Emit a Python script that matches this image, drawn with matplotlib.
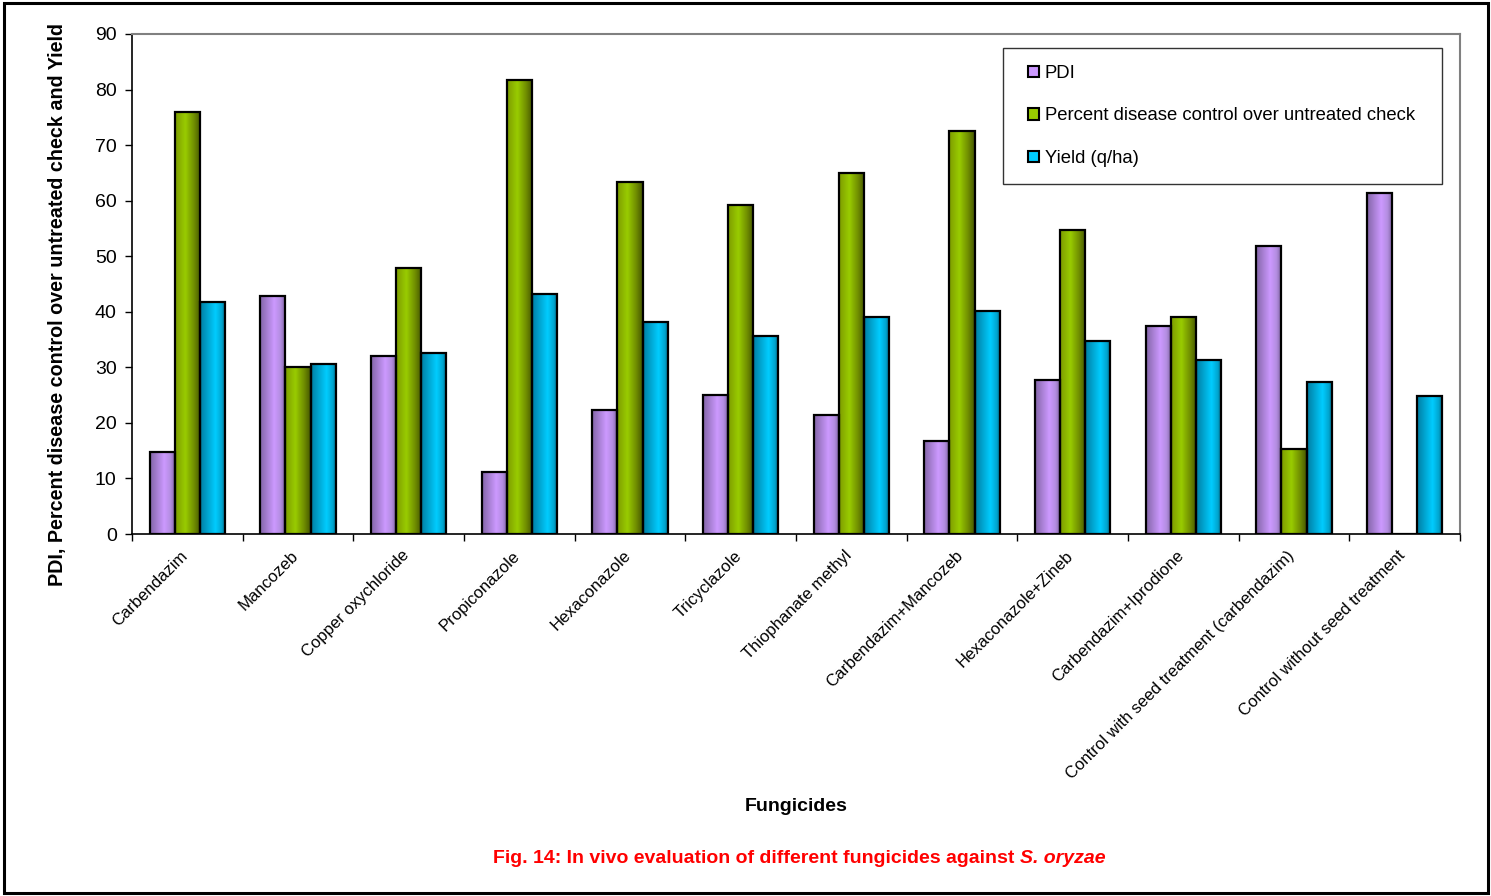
import numpy as np
import matplotlib
matplotlib.use('Agg')
import matplotlib.pyplot as plt
from matplotlib.colors import LinearSegmentedColormap
from matplotlib.patches import Patch, Rectangle
from matplotlib.legend_handler import HandlerBase
from matplotlib.transforms import ScaledTranslation

plt.rcParams['font.family'] = ['Liberation Sans', 'DejaVu Sans']

# data
fungicides = ['Carbendazim', 'Mancozeb', 'Copper oxychloride', 'Propiconazole',
              'Hexaconazole', 'Tricyclazole', 'Thiophanate methyl',
              'Carbendazim+Mancozeb', 'Hexaconazole+Zineb', 'Carbendazim+Iprodione',
              'Control with seed treatment (carbendazim)', 'Control without seed treatment']
pdi = [14.7, 42.8, 32.0, 11.2, 22.4, 25.1, 21.5, 16.8, 27.8, 37.4, 51.9, 61.3]
control = [76.0, 30.0, 47.8, 81.7, 63.4, 59.2, 64.9, 72.5, 54.7, 39.1, 15.3, 0.0]
yld = [41.8, 30.6, 32.6, 43.2, 38.2, 35.6, 39.0, 40.2, 34.8, 31.3, 27.4, 24.9]

series = [('PDI', pdi), ('Percent disease control over untreated check', control),
          ('Yield (q/ha)', yld)]
# left -> highlight -> right shading for each series
stops = [[(0, '#8466a8'), (0.55, '#cc99ff'), (0.8, '#b38de0'), (1, '#7c5f9e')],
         [(0, '#7e9c00'), (0.4, '#99cc00'), (0.75, '#6f8c00'), (1, '#455600')],
         [(0, '#007ea3'), (0.6, '#00ccff'), (0.85, '#00a5cf'), (1, '#00617d')]]
flat = ['#cc99ff', '#99cc00', '#00ccff']


class SquareHandler(HandlerBase):
    # small square sitting at the right end of the handle box
    def create_artists(self, legend, orig_handle, xdescent, ydescent, width, height,
                       fontsize, trans):
        s = 8.0
        r = Rectangle((width - s - xdescent, (height - s) / 2 - ydescent), s, s,
                      facecolor=orig_handle.get_facecolor(), edgecolor='black',
                      linewidth=1.5, transform=trans)
        return [r]


fig = plt.figure(figsize=(14.91, 8.96), dpi=100)
ax = fig.add_axes([132/1491, 1-534/896, (1460-132)/1491, 500/896])

x = np.arange(len(fungicides))
w = 0.226
grad = np.linspace(0, 1, 64).reshape(1, -1)
for i, (name, vals) in enumerate(series):
    cmap = LinearSegmentedColormap.from_list('c%d' % i, stops[i])
    pos = x + (i - 1) * w
    for px, v in zip(pos, vals):
        if v <= 0:
            continue
        ax.imshow(grad, cmap=cmap, extent=[px - w/2, px + w/2, 0, v], aspect='auto',
                  interpolation='bilinear', zorder=2)
    ax.bar(pos, vals, w, facecolor='none', edgecolor='black', linewidth=1.6, zorder=3)

ax.set_xlim(-0.5, len(fungicides) - 0.5)
ax.set_ylim(0, 90)
ax.set_yticks(np.arange(0, 91, 10))
ax.tick_params(axis='y', labelsize=14, length=5, width=1, direction='out', pad=6)
ax.set_xticks(x)
ax.set_xticklabels(fungicides, rotation=45, ha='right', rotation_mode='anchor', fontsize=12)
ax.tick_params(axis='x', length=0, pad=10)
shift = ScaledTranslation(-7/100, 0, fig.dpi_scale_trans)
for lab in ax.get_xticklabels():
    lab.set_transform(lab.get_transform() + shift)
ax.set_xticks(np.arange(-0.5, len(fungicides)), minor=True)
ax.tick_params(axis='x', which='minor', length=5, width=1, direction='out')
for s in ['top', 'right']:
    ax.spines[s].set_color('#808080')
    ax.spines[s].set_linewidth(1.5)
for s in ['left', 'bottom']:
    ax.spines[s].set_linewidth(1.2)

handles = [Patch(facecolor=c, edgecolor='black') for c in flat]
leg = ax.legend(handles, [s[0] for s in series], loc='upper left', mode='expand',
                bbox_to_anchor=(1003/1491, 1-179/896, 439/1491, 131/896),
                bbox_transform=fig.transFigure, handler_map={Patch: SquareHandler()},
                fontsize=13.3, frameon=True, fancybox=False, borderpad=0.9,
                labelspacing=1.4, handlelength=1.05, handletextpad=0.3, borderaxespad=0)
leg.get_frame().set_edgecolor('black')
leg.get_frame().set_linewidth(1)

fig.text(58/1491, 1-305/896, 'PDI, Percent disease control over untreated check and Yield',
         rotation=90, ha='center', va='center', fontsize=14.2, fontweight='bold')
fig.text(796/1491, 1-806/896, 'Fungicides', ha='center', va='center', fontsize=14,
         fontweight='bold')
fig.text(1014/1491, 1-858/896, 'Fig. 14: In vivo evaluation of different fungicides against',
         ha='right', va='center', fontsize=14, fontweight='bold', color='red')
fig.text(1020/1491, 1-858/896, 'S. oryzae', ha='left', va='center', fontsize=14,
         fontweight='bold', fontstyle='italic', color='red')

fig.patches.append(Rectangle((4/1491, 3/896), 1484/1491, 890/896, transform=fig.transFigure,
                             fill=False, edgecolor='black', linewidth=2.2))

fig.savefig('out.png', dpi=100)
